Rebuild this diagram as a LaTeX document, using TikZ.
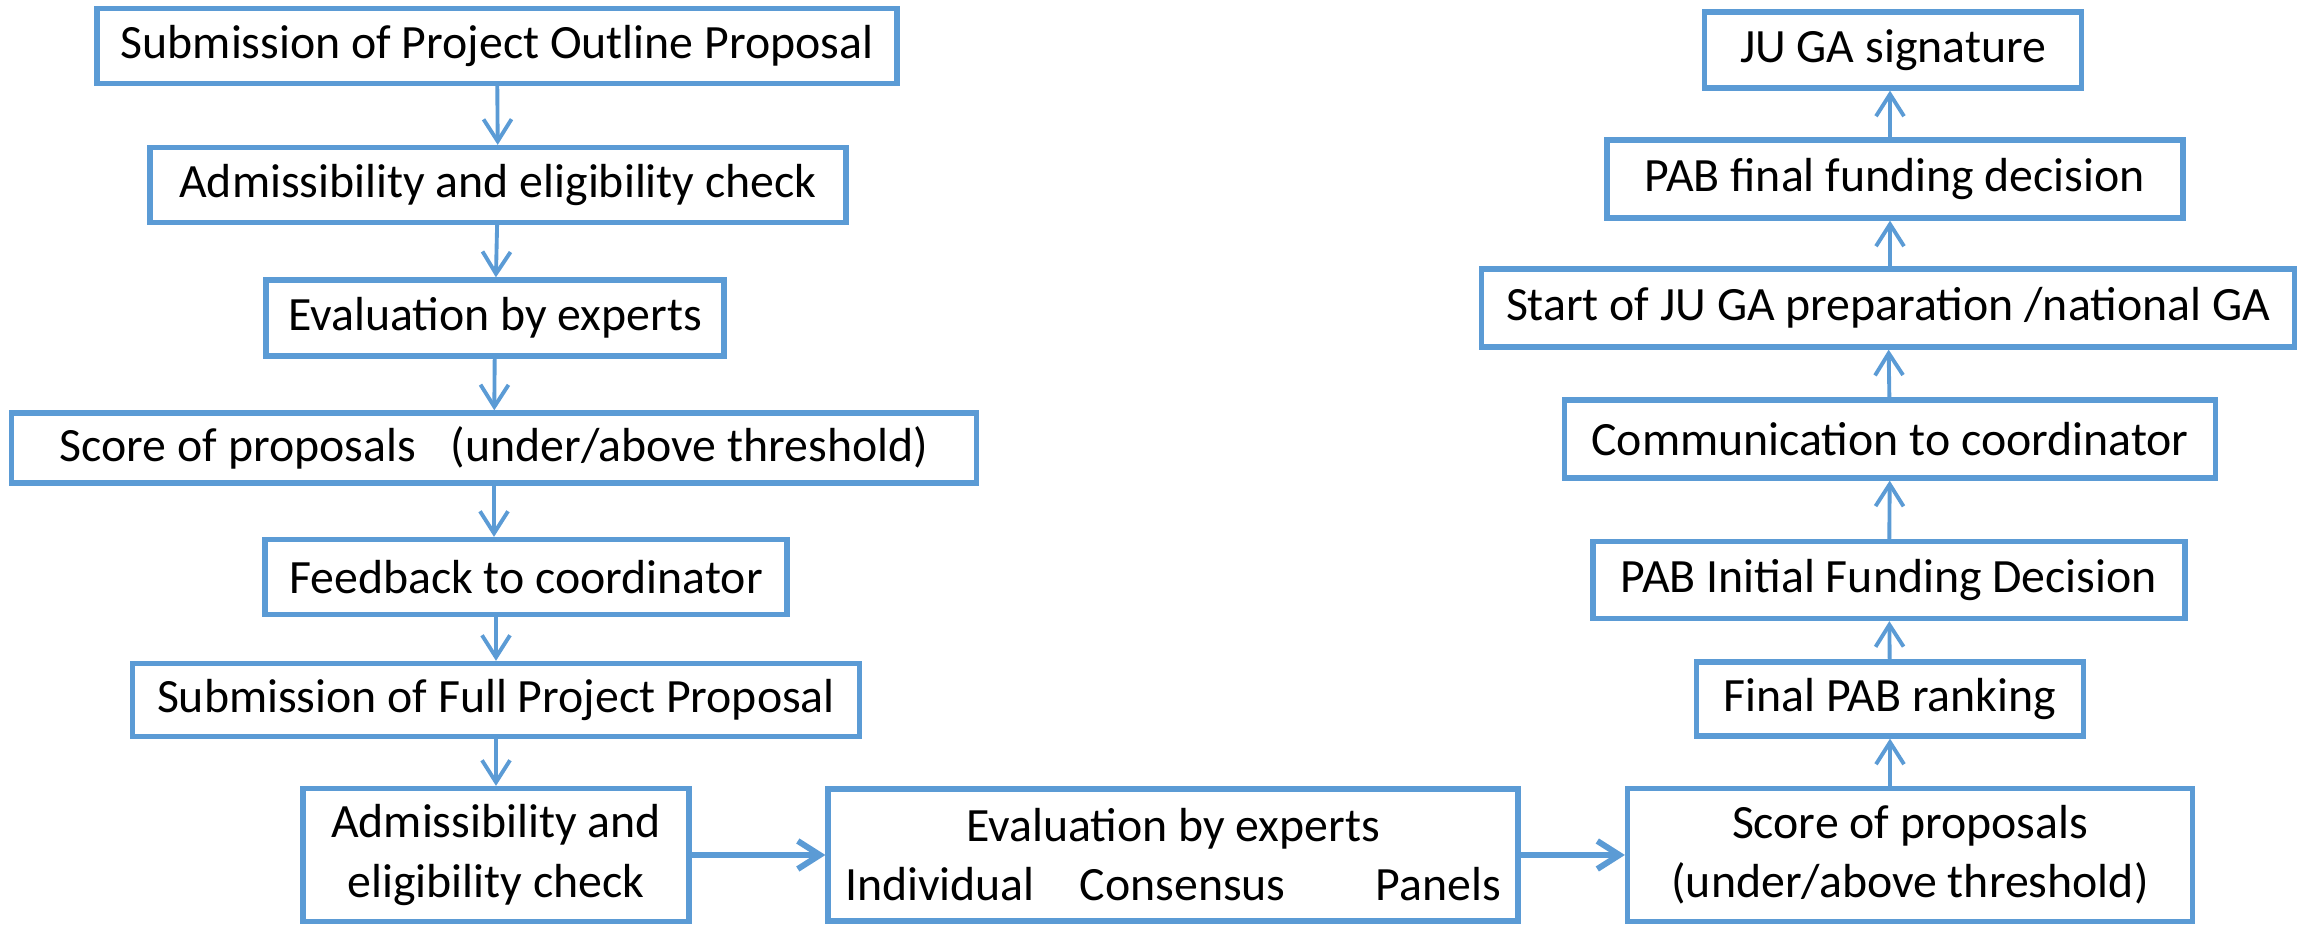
\documentclass[tikz,border=0pt]{standalone}
\usepackage{fontspec}
\setmainfont{Carlito}
\usetikzlibrary{arrows.meta}
\definecolor{flowblue}{HTML}{5B9BD5}

\begin{document}
\begin{tikzpicture}[x=0.1mm, y=-0.1mm, line width=1.1pt, >={Straight Barb[length=2.2mm,width=2.8mm]},
    box/.style = {draw=flowblue, line width=1.5pt, rectangle, align=center, inner sep=2pt,
                  font=\fontsize{13.6}{16.8}\selectfont},
    link/.style = {draw=flowblue, ->}]
    \useasboundingbox (0,0) rectangle (2307,927);
    % left column, going down
    \node[box, minimum width=80mm, minimum height=7.5mm] (out) at (497,46) {Submission of Project Outline Proposal};
    \node[box, minimum width=69.6mm, minimum height=7.5mm] (adm1) at (498,185) {Admissibility and eligibility check};
    \node[box, minimum width=45.8mm, minimum height=7.6mm] (eval1) at (495,318) {Evaluation by experts};
    \node[box, minimum width=96.5mm, minimum height=7mm] (score1) at (494,448) {Score of proposals\hspace{3.5mm}(under/above threshold)};
    \node[box, minimum width=52.2mm, minimum height=7.5mm] (feed) at (526,577) {Feedback to coordinator};
    \node[box, minimum width=72.7mm, minimum height=7.3mm] (full) at (496,700) {Submission of Full Project Proposal};
    % bottom row
    \node[box, minimum width=38.6mm, minimum height=13.3mm] (adm2) at (496,855) {Admissibility and\\eligibility check};
    \node[box, minimum width=69mm, minimum height=13.2mm] (eval2) at (1173,855) {Evaluation by experts\\Individual\hspace{4.5mm}Consensus\hspace{9mm}Panels};
    \node[box, minimum width=56.5mm, minimum height=13.3mm] (score2) at (1910,855) {Score of proposals\\(under/above threshold)};
    % right column, going up
    \node[box, minimum width=38.7mm, minimum height=7.4mm] (rank) at (1890,699) {Final PAB ranking};
    \node[box, minimum width=59.2mm, minimum height=7.7mm] (init) at (1889,580) {PAB Initial Funding Decision};
    \node[box, minimum width=65.1mm, minimum height=7.8mm] (comm) at (1890,439) {Communication to coordinator};
    \node[box, minimum width=81.3mm, minimum height=7.8mm] (start) at (1888,308) {Start of JU GA preparation /national GA};
    \node[box, minimum width=57.6mm, minimum height=7.8mm] (pabfin) at (1895,179) {PAB final funding decision};
    \node[box, minimum width=37.7mm, minimum height=7.6mm] (sig) at (1893,50) {JU GA signature};

    \draw[link] (out)--(adm1);
    \draw[link] (adm1)--(eval1);
    \draw[link] (eval1)--(score1);
    \draw[link] (score1.south)--(score1.south |- feed.north);
    \draw[link] (full.north |- feed.south)--(full.north);
    \draw[link] (full)--(adm2);
    \draw[link, line width=1.7pt] (adm2)--(eval2);
    \draw[link, line width=1.7pt] (eval2)--(score2);
    \draw[link] (rank.south |- score2.north)--(rank.south);
    \draw[link] (rank)--(init);
    \draw[link] (init)--(comm);
    \draw[link] (comm)--(start);
    \draw[link] (start.north -| comm.north)--(comm.north |- pabfin.south);
    \draw[link] (pabfin.north -| comm.north)--(comm.north |- sig.south);
\end{tikzpicture}
\end{document}
